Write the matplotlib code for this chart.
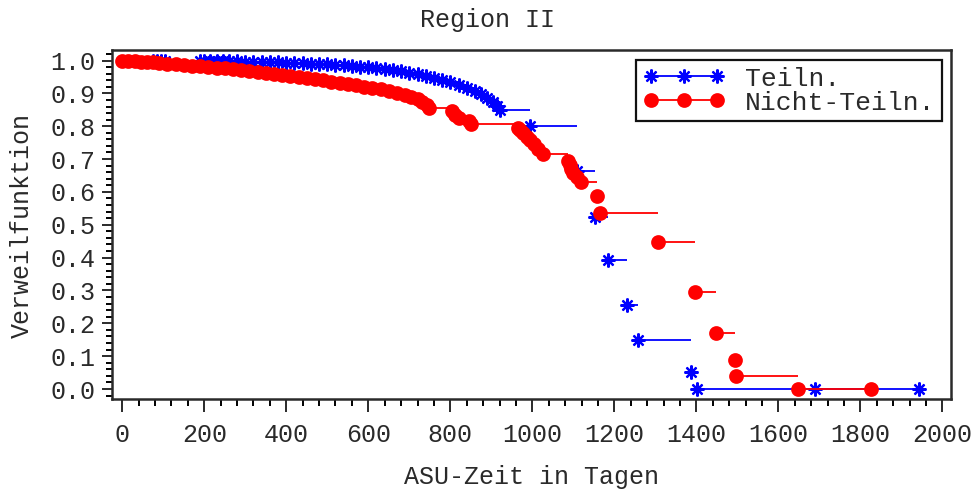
import matplotlib
matplotlib.use("Agg")
import matplotlib.pyplot as plt
from matplotlib.ticker import MultipleLocator
import numpy as np

# Kaplan-Meier estimates (days, survival)
teiln_days = [75, 85, 95, 105, 190, 200, 215, 230, 245, 260, 280, 300, 320, 340, 360,
              380, 400, 420, 440, 460, 480, 500, 520, 540, 560, 580, 600, 620, 640, 660,
              680, 700, 720, 740, 760, 780, 800, 820, 840, 860, 875, 890, 905, 915, 922,
              994, 1109, 1153, 1185, 1231, 1258, 1387, 1402, 1690, 1943]
teiln_surv = [1.0, 1.0, 1.0, 0.999, 0.999, 0.999, 0.998, 0.998, 0.998, 0.997, 0.997, 0.996,
              0.996, 0.995, 0.995, 0.994, 0.993, 0.992, 0.991, 0.990, 0.989, 0.988, 0.987,
              0.985, 0.983, 0.981, 0.979, 0.977, 0.974, 0.971, 0.967, 0.963, 0.958, 0.953,
              0.947, 0.941, 0.934, 0.926, 0.917, 0.907, 0.897, 0.887, 0.875, 0.862, 0.850,
              0.800, 0.664, 0.524, 0.393, 0.256, 0.149, 0.052, 0.0, 0.0, 0.0]

nicht_days = [0, 15, 30, 45, 60, 75, 90, 110, 130, 150, 170, 190, 210, 230, 250, 270, 290,
              310, 330, 350, 370, 390, 410, 430, 450, 470, 490, 510, 530, 550, 570, 590,
              610, 630, 650, 670, 690, 705, 720, 732, 742, 748, 805, 812, 820, 845, 851,
              965, 971, 978, 986, 994, 1003, 1013, 1025, 1088, 1091, 1095, 1100, 1108,
              1118, 1158, 1165, 1306, 1397, 1448, 1495, 1497, 1647, 1826]
nicht_surv = [1.0, 0.998, 0.997, 0.996, 0.995, 0.994, 0.992, 0.990, 0.988, 0.986, 0.984,
              0.982, 0.980, 0.978, 0.976, 0.973, 0.970, 0.967, 0.964, 0.961, 0.958, 0.955,
              0.952, 0.949, 0.946, 0.943, 0.940, 0.936, 0.932, 0.928, 0.924, 0.920, 0.916,
              0.912, 0.907, 0.901, 0.895, 0.889, 0.882, 0.874, 0.865, 0.855, 0.845, 0.835,
              0.826, 0.815, 0.808, 0.796, 0.788, 0.778, 0.768, 0.758, 0.745, 0.730, 0.714,
              0.695, 0.683, 0.670, 0.657, 0.645, 0.630, 0.587, 0.536, 0.447, 0.295, 0.170,
              0.088, 0.040, 0.0, 0.0]

FONT = "Liberation Mono"
FS = 18
TXT = '#2a2a2a'
plt.rcParams['font.family'] = FONT
plt.rcParams['font.size'] = FS


def km_plot(ax, days, surv, color, marker, ms, label):
    days = np.asarray(days)
    surv = np.asarray(surv)
    # only horizontal segments, like the SAS step plot
    ax.hlines(surv[:-1], days[:-1], days[1:], color=color, lw=1.3)
    ax.plot(days, surv, ls='none', marker=marker, ms=ms, color=color,
            mec=color, mew=1.6)
    # proxy artist for legend
    return ax.plot([], [], color=color, lw=1.3, marker=marker, ms=ms,
                   mec=color, mew=1.6, label=label)[0]


fig = plt.figure(figsize=(9.76, 4.90), dpi=100)
ax = fig.add_axes([112 / 976, 1 - 399 / 490, (951 - 112) / 976, (399 - 50) / 490])

h1 = km_plot(ax, teiln_days, teiln_surv, '#0000ff', (8, 2, 0), 10, 'Teiln.')
h2 = km_plot(ax, nicht_days, nicht_surv, '#ff0000', 'o', 9, 'Nicht-Teiln.')

ax.set_xlim(-25, 2021)
ax.set_ylim(-0.0304, 1.032)
ax.xaxis.set_major_locator(MultipleLocator(200))
ax.xaxis.set_minor_locator(MultipleLocator(40))
ax.yaxis.set_major_locator(MultipleLocator(0.1))
ax.yaxis.set_minor_locator(MultipleLocator(0.02))
ax.set_yticklabels([f'{v:.1f}' for v in ax.get_yticks()])
ax.tick_params(which='major', length=9, width=1.4, direction='out', pad=8)
ax.tick_params(which='minor', length=5, width=1.4, direction='out')
ax.tick_params(axis='y', which='major', length=7, pad=5)
ax.tick_params(axis='y', which='minor', length=4)
ax.tick_params(labelsize=FS, colors=TXT)
for s in ax.spines.values():
    s.set_linewidth(1.8)
    s.set_color(TXT)

leg = ax.legend(handles=[h1, h2], loc='upper right', bbox_to_anchor=(0.989, 0.971),
                borderaxespad=0, numpoints=3, handlelength=3.1, handletextpad=0.75,
                labelspacing=0.0, borderpad=0.25, fancybox=False, framealpha=1,
                fontsize=19)
leg.get_frame().set_edgecolor('#111111')
leg.get_frame().set_linewidth(1.6)
for t in leg.get_texts():
    t.set_color(TXT)

fig.text(0.5, 1 - 20 / 490, 'Region II', ha='center', va='center', fontsize=FS, color=TXT)
fig.text(531 / 976, 1 - 477 / 490, 'ASU-Zeit in Tagen', ha='center', va='center',
         fontsize=FS, color=TXT)
fig.text(22 / 976, 1 - 226 / 490, 'Verweilfunktion', ha='center', va='center',
         rotation=90, fontsize=FS, color=TXT)

fig.savefig('out.png', dpi=100)
